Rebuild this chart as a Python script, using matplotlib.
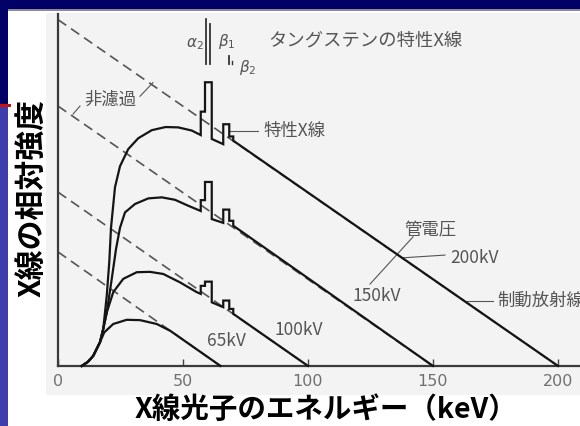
import matplotlib
matplotlib.use('Agg')
import matplotlib.pyplot as plt
from matplotlib.patches import Rectangle

plt.rcParams['font.family'] = ['Noto Sans CJK JP', 'DejaVu Sans']

# ---- data (keV, relative intensity) ----
kv_list = [200, 150, 100, 65]
dash_start = [99.0, 74.3, 49.7, 32.6]   # unfiltered (dashed) intensity at 0 keV

e_200 = [9.5, 12, 14.1, 16.8, 18.1, 19.5, 20.5, 21.2, 22.8, 24.8, 28.1, 32.1, 37.5, 43, 48.1, 53.5,
         57.1, 57.1, 58.8, 58.8, 61.5, 61.5, 66.1, 66.1, 68.5, 68.5, 70.1, 70.1, 200]
y_200 = [0, 1.2, 2.9, 6.8, 10.6, 20.1, 29.6, 39.5, 51.1, 57.1, 62.0, 65.1, 67.4, 68.3, 68.2, 67.3,
         66.0, 72.7, 72.7, 81.1, 81.1, 64.9, 63.4, 69.1, 69.1, 65.6, 65.6, 64.4, 0]

e_150 = [9.5, 12, 14.1, 16.8, 18.1, 19.5, 21.5, 23.2, 24.8, 26.8, 30.8, 36.1, 41.5, 46.8, 52.1,
         57.1, 57.1, 58.8, 58.8, 61.5, 61.5, 66.1, 66.1, 68.5, 68.5, 70.1, 70.1, 150]
y_150 = [0, 1.2, 2.9, 6.8, 10.6, 15.3, 24.9, 33.4, 39.5, 43.9, 46.3, 47.9, 48.2, 47.5, 45.8,
         44.3, 47.4, 47.4, 52.6, 52.6, 42.0, 40.9, 44.7, 44.7, 41.5, 41.5, 40.1, 0]

e_100 = [9.5, 12, 14.1, 16.8, 18.1, 19.5, 22.1, 26.1, 31.5, 36.8, 42.1, 48.8, 55.5,
         57.1, 57.1, 58.8, 58.8, 61.5, 61.5, 66.1, 66.1, 68.5, 68.5, 70.1, 70.1, 100]
y_100 = [0, 1.2, 2.9, 6.8, 10.6, 15.3, 21.1, 24.9, 26.8, 26.9, 26.3, 23.9, 21.1,
         20.6, 22.9, 22.9, 24.1, 24.1, 18.2, 16.8, 18.7, 18.7, 16.3, 16.3, 14.9, 0]

e_65 = [9.5, 12, 14.1, 16.8, 18.5, 22.1, 27.5, 32.8, 39.5, 45, 65]
y_65 = [0, 1.2, 2.9, 6.8, 9.6, 12.0, 13.2, 13.1, 12.0, 10.0, 0]

solid_e = [e_200, e_150, e_100, e_65]
solid_y = [y_200, y_150, y_100, y_65]

xticks = [0, 50, 100, 150, 200]

W, H = 580, 427
fig = plt.figure(figsize=(5.8, 4.27), dpi=100)
fig.patch.set_facecolor('white')


def px_rect(x0, y0, x1, y1, color):
    fig.add_artist(Rectangle((x0 / W, 1 - y1 / H), (x1 - x0) / W, (y1 - y0) / H,
                             transform=fig.transFigure, color=color, lw=0, zorder=0))


# slide decoration
px_rect(0, 0, W, 10, '#000066')
px_rect(8, 10, W, 11.5, '#8a8a9a')
px_rect(0, 0, 8, 105, '#000066')
px_rect(0, 105, 11, 108, '#cc1111')
px_rect(0, 108, 8, H, '#3d3dab')

# scanned figure area
ax = fig.add_axes([46 / W, 1 - 396 / H, (W - 46) / W, (396 - 14) / H])
ax.set_facecolor('#f3f3f3')
ax.set_xlim(-4.8, 208.8)
ax.set_ylim(-8.3, 100.9)

for s in ['top', 'right']:
    ax.spines[s].set_visible(False)
ax.spines['left'].set_position(('data', 0))
ax.spines['bottom'].set_position(('data', 0))
ax.spines['left'].set_bounds(0, 100.6)
ax.spines['bottom'].set_bounds(0, 208.8)
for s in ['left', 'bottom']:
    ax.spines[s].set_color('#3a3a3a')
    ax.spines[s].set_linewidth(1.6)

ax.set_xticks(xticks)
ax.set_xticklabels([str(t) for t in xticks], fontsize=11.5, color='#707070',
                   family='DejaVu Sans')
ax.tick_params(axis='x', direction='in', length=5, width=1, color='#444444', pad=5)
ax.set_yticks([])

# unfiltered (dashed) lines
for kv, y0 in zip(kv_list, dash_start):
    ax.plot([0, kv], [y0, 0], color='#555555', lw=1.2, linestyle=(0, (6, 3.5)), zorder=2)

# filtered spectra
for es, ys in zip(solid_e, solid_y):
    ax.plot(es, ys, color='#151515', lw=1.6, solid_joinstyle='miter', zorder=3)

gray = '#555555'
# characteristic line markers
ax.plot([59.2, 59.2], [86.3, 99.1], color='#333333', lw=1.3)
ax.plot([60.8, 60.8], [86.3, 97.7], color='#333333', lw=1.3)
ax.plot([68.4, 68.4], [86.3, 88.6], color='#333333', lw=1.3)
ax.plot([69.6, 69.6], [86.3, 87.1], color='#333333', lw=1.0)
ax.text(54.8, 92.6, r'$\alpha_2$', color=gray, fontsize=11, ha='center', va='center')
ax.text(67.6, 92.9, r'$\beta_1$', color=gray, fontsize=11, ha='center', va='center')
ax.text(76.0, 85.7, r'$\beta_2$', color=gray, fontsize=11, ha='center', va='center')

ax.text(84, 93.4, 'タングステンの特性X線', color=gray, fontsize=13.2, ha='left', va='center')

ax.text(20.8, 76.3, '非濾過', color=gray, fontsize=12.5, ha='center', va='center')
ax.plot([32.8, 38], [77.1, 81], color=gray, lw=0.8)
ax.plot([8.8, 6], [74.3, 72], color=gray, lw=0.8)

ax.text(82, 67.6, '特性X線', color=gray, fontsize=12.5, ha='left', va='center')
ax.plot([68.8, 80], [67.1, 67.1], color=gray, lw=0.8)

ax.text(148.8, 38.9, '管電圧', color=gray, fontsize=12.5, ha='center', va='center')
ax.text(166.8, 31.1, '200kV', color=gray, fontsize=12.5, ha='center', va='center')
ax.plot([137.6, 154.8], [30.9, 31.7], color=gray, lw=0.8)
ax.text(127.6, 20.3, '150kV', color=gray, fontsize=12.5, ha='center', va='center')
ax.plot([124.8, 142], [23.4, 36.9], color=gray, lw=0.8)
ax.text(96.4, 10.6, '100kV', color=gray, fontsize=12.5, ha='center', va='center')
ax.text(67.2, 7.4, '65kV', color=gray, fontsize=12.5, ha='center', va='center')
ax.text(175.6, 18.9, '制動放射線', color=gray, fontsize=12.5, ha='left', va='center',
        clip_on=False)
ax.plot([163.6, 174], [18.7, 18.7], color=gray, lw=0.8)

# slide axis titles
fig.text(32 / W, 1 - 198 / H, 'X線の相対強度', rotation=90, fontsize=21.5,
         fontweight='bold', ha='center', va='center', color='black')
fig.text(326 / W, 1 - 410 / H, 'X線光子のエネルギー（keV）', fontsize=20.5,
         fontweight='bold', ha='center', va='center', color='black')

fig.savefig('out.png', dpi=100)
